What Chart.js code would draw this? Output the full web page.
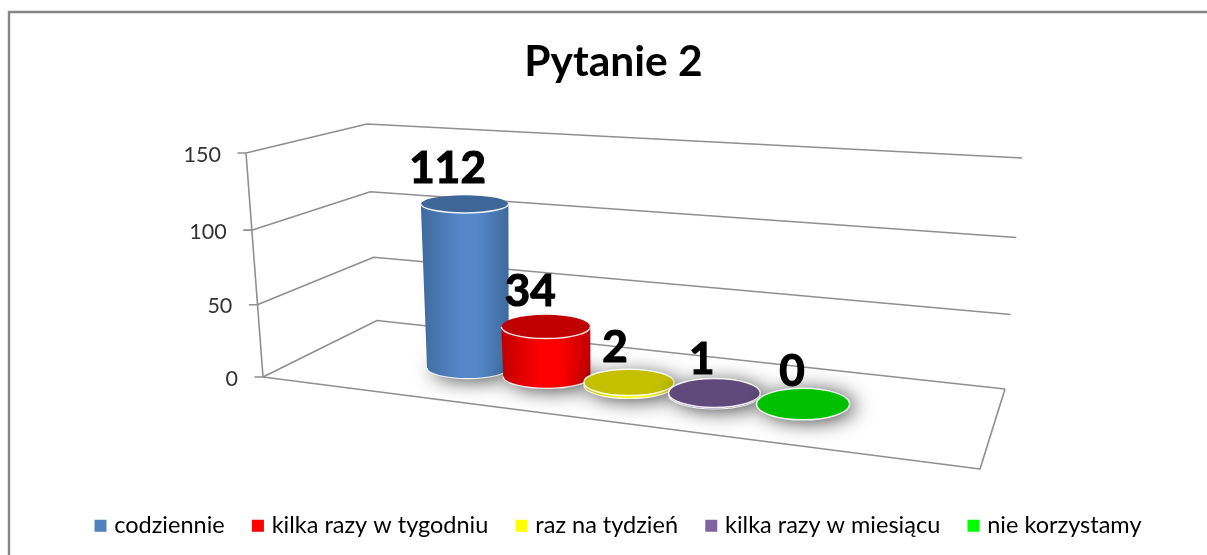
<!DOCTYPE html>
<html>
<head>
<meta charset="utf-8">
<script src="https://cdn.jsdelivr.net/npm/chart.js@4"></script>
<style>html,body{margin:0;padding:0;background:#fff;overflow:hidden}canvas{display:block}</style>
</head>
<body>
<canvas id="c" width="1207" height="555"></canvas>
<script>
const titleText = 'Pytanie 2';
const categories = ['codziennie', 'kilka razy w tygodniu', 'raz na tydzień', 'kilka razy w miesiącu', 'nie korzystamy'];
const values = [112, 34, 2, 1, 0];
const tickValues = [0, 50, 100, 150];
const seriesColors = ['#4f81bd', '#ff0000', '#ffff00', '#8064a2', '#00ff00'];
const midColors = ['#5587c9', '#ff0000', '#ffff00', '#8064a2', '#00ff00'];
const edgeColors = ['#3f6a9c', '#c00000', '#c4c000', '#604a7b', '#00c000'];
const capColors = ['#3e6797', '#c00000', '#c4c000', '#604a7b', '#00c000'];
const FONT = 'Lato, "Liberation Sans", sans-serif';

// Perspective of the 3-D box, applied to what the library's scales return
const warpV = t => t + 0.05 * t * (t - 1);
function frontPoint(scale, v) {
  const a = scale.chart.chartArea, t = v / 150;
  const u = warpV((a.bottom - scale.getPixelForValue(v)) / (a.bottom - a.top));
  return { t, u, x: 263 - 17 * t, y: a.bottom - (a.bottom - a.top) * u };
}
function backPoint(u, t) { return { x: 377 - 10 * t, y: 320.5 - 196.5 * u }; }
function rightPoint(u, t) { return { x: 1005 + 17 * t, y: 389 - 231 * u }; }

function project(chart, el, i) {
  const n = categories.length - 1, xs = chart.scales.x;
  const p0 = xs.getPixelForValue(0), p4 = xs.getPixelForValue(n), d = (p4 - p0) / n;
  const sx = el.x + 1.63 * (el.x - p0) * (el.x - p4) / (d * d);
  const sy = 368 + 0.1075 * (sx - p0) + (el.base - chart.chartArea.bottom);
  const h = (el.base - el.y) * 0.98;
  const rx = 43.8 + 0.7 * i, ry = 10.6 + 1.3 * i;
  return { sx, sy, h, rxB: rx - 0.018 * h, ryB: ry, cx: sx - 0.02 * h, cy: sy - h, rxT: rx, ryT: ry - (i === 0 ? 0.011 * h : 0) };
}

class CylinderController extends Chart.BarController {
  draw() {
    const chart = this.chart, ctx = chart.ctx, els = this.getMeta().data;
    els.forEach((el, i) => {
      const g = project(chart, el, i);
      ctx.save();
      ctx.shadowColor = 'rgba(0,0,0,0.75)';
      ctx.shadowBlur = 20;
      ctx.shadowOffsetX = 5;
      ctx.shadowOffsetY = 2;
      ctx.fillStyle = '#777';
      ctx.beginPath();
      ctx.ellipse(g.sx, g.sy, g.rxB, g.ryB, 0, 0, Math.PI * 2);
      ctx.fill();
      ctx.restore();
      if (g.h > 0) {
        const gr = ctx.createLinearGradient(g.cx - g.rxT, 0, g.cx + g.rxT, 0);
        gr.addColorStop(0, edgeColors[i]);
        gr.addColorStop(0.45, midColors[i]);
        gr.addColorStop(0.65, midColors[i]);
        gr.addColorStop(1, edgeColors[i]);
        ctx.fillStyle = gr;
        ctx.beginPath();
        ctx.moveTo(g.cx - g.rxT, g.cy);
        ctx.lineTo(g.sx - g.rxB, g.sy);
        ctx.ellipse(g.sx, g.sy, g.rxB, g.ryB, 0, Math.PI, 0, true);
        ctx.lineTo(g.cx + g.rxT, g.cy);
        ctx.closePath();
        ctx.fill();
        ctx.strokeStyle = 'rgba(255,255,255,0.9)';
        ctx.lineWidth = 1.2;
        ctx.beginPath();
        ctx.ellipse(g.sx, g.sy, g.rxB, g.ryB, 0, Math.PI, 0, true);
        ctx.stroke();
      }
      ctx.fillStyle = capColors[i];
      ctx.beginPath();
      ctx.ellipse(g.cx, g.cy, g.rxT, g.ryT, 0, 0, Math.PI * 2);
      ctx.fill();
      ctx.strokeStyle = 'rgba(255,255,255,0.9)';
      ctx.lineWidth = 1.5;
      ctx.beginPath();
      if (g.h > 10) ctx.ellipse(g.cx, g.cy, g.rxT, g.ryT, 0, Math.PI, 0, true);
      else ctx.ellipse(g.cx, g.cy, g.rxT, g.ryT, 0, 0, Math.PI * 2);
      ctx.stroke();
    });
    // data labels
    ctx.save();
    ctx.font = 'bold 44px ' + FONT;
    ctx.fillStyle = '#000';
    ctx.strokeStyle = '#000';
    ctx.lineWidth = 1.2;
    ctx.textAlign = 'center';
    ctx.textBaseline = 'alphabetic';
    els.forEach((el, i) => {
      const g = project(chart, el, i);
      const lx = g.cx - 17 + 1.5 * i, ly = g.cy - 21.5 + 0.8 * i;
      ctx.strokeText(String(values[i]), lx, ly);
      ctx.fillText(String(values[i]), lx, ly);
    });
    ctx.restore();
  }
}
CylinderController.id = 'cylinder';
CylinderController.defaults = Chart.BarController.defaults;
CylinderController.overrides = Chart.BarController.overrides;
Chart.register(CylinderController);

const boxPlugin = {
  id: 'box3d',
  afterLayout(chart) {
    const lg = chart.legend;
    lg.left += 6.5; lg.right += 6.5;
    lg.top -= 7.5; lg.bottom -= 7.5;
  },
  beforeDraw(chart) {
    const ctx = chart.ctx, y = chart.scales.y;
    ctx.save();
    ctx.fillStyle = '#fff';
    ctx.fillRect(0, 0, chart.width, chart.height);
    ctx.strokeStyle = '#868686';
    ctx.lineWidth = 2.4;
    ctx.beginPath();
    ctx.moveTo(9, 555); ctx.lineTo(9, 12); ctx.lineTo(1207, 12);
    ctx.stroke();
    ctx.restore();
    // slant the library's tick labels along the box edge
    y.getLabelItems().forEach((item, idx) => {
      const f = frontPoint(y, y.ticks[idx].value);
      item.options.translation = [f.x - 25, f.y + 1.6];
    });
  },
  beforeDatasetsDraw(chart) {
    const ctx = chart.ctx, y = chart.scales.y;
    ctx.save();
    ctx.strokeStyle = '#8f8f8f';
    ctx.lineWidth = 1.6;
    ctx.lineJoin = 'round';
    ctx.beginPath();
    tickValues.forEach(v => {
      const f = frontPoint(y, v), b = backPoint(f.u, f.t), r = rightPoint(f.u, f.t);
      ctx.moveTo(f.x - 8.5, f.y);
      ctx.lineTo(f.x, f.y);
      ctx.lineTo(b.x, b.y);
      ctx.lineTo(r.x, r.y);
    });
    const f0 = frontPoint(y, 0), f1 = frontPoint(y, 150), r0 = rightPoint(0, 0);
    ctx.moveTo(f1.x, f1.y);
    ctx.lineTo(f0.x, f0.y);
    ctx.lineTo(980, 469);
    ctx.lineTo(r0.x, r0.y);
    ctx.stroke();
    ctx.restore();
  }
};

new Chart(document.getElementById('c'), {
  type: 'cylinder',
  plugins: [boxPlugin],
  data: {
    labels: categories,
    datasets: [{ data: values, backgroundColor: seriesColors, clip: false }]
  },
  options: {
    responsive: false,
    animation: false,
    layout: { padding: { left: 20, right: 0, top: 0, bottom: 0 } },
    scales: {
      x: {
        display: true,
        grid: { display: false, drawTicks: false },
        border: { display: false },
        ticks: { display: false },
        afterFit(s) { s.height = 113.25; }
      },
      y: {
        min: 0, max: 150,
        position: 'left',
        grid: { display: false, drawTicks: false },
        border: { display: false },
        ticks: { stepSize: 50, color: '#333', font: { family: FONT, size: 21.5 } },
        afterFit(s) { s.width = 406; }
      },
      yR: {
        display: true,
        position: 'right',
        grid: { display: false, drawTicks: false },
        border: { display: false },
        ticks: { display: false },
        afterFit(s) { s.width = 362; }
      }
    },
    plugins: {
      tooltip: { enabled: false },
      title: {
        display: true,
        text: titleText,
        color: '#000',
        font: { family: FONT, size: 42.5, weight: 'bold' },
        padding: { top: 37, bottom: 65 }
      },
      legend: {
        display: true,
        position: 'bottom',
        labels: {
          boxWidth: 4,
          boxHeight: 4,
          padding: 31.25,
          color: '#222',
          font: { family: FONT, size: 23.5 },
          generateLabels() {
            return categories.map((c, i) => ({ text: c, fillStyle: seriesColors[i], strokeStyle: seriesColors[i], lineWidth: 8, index: i }));
          }
        }
      }
    }
  }
});
</script>
</body>
</html>
